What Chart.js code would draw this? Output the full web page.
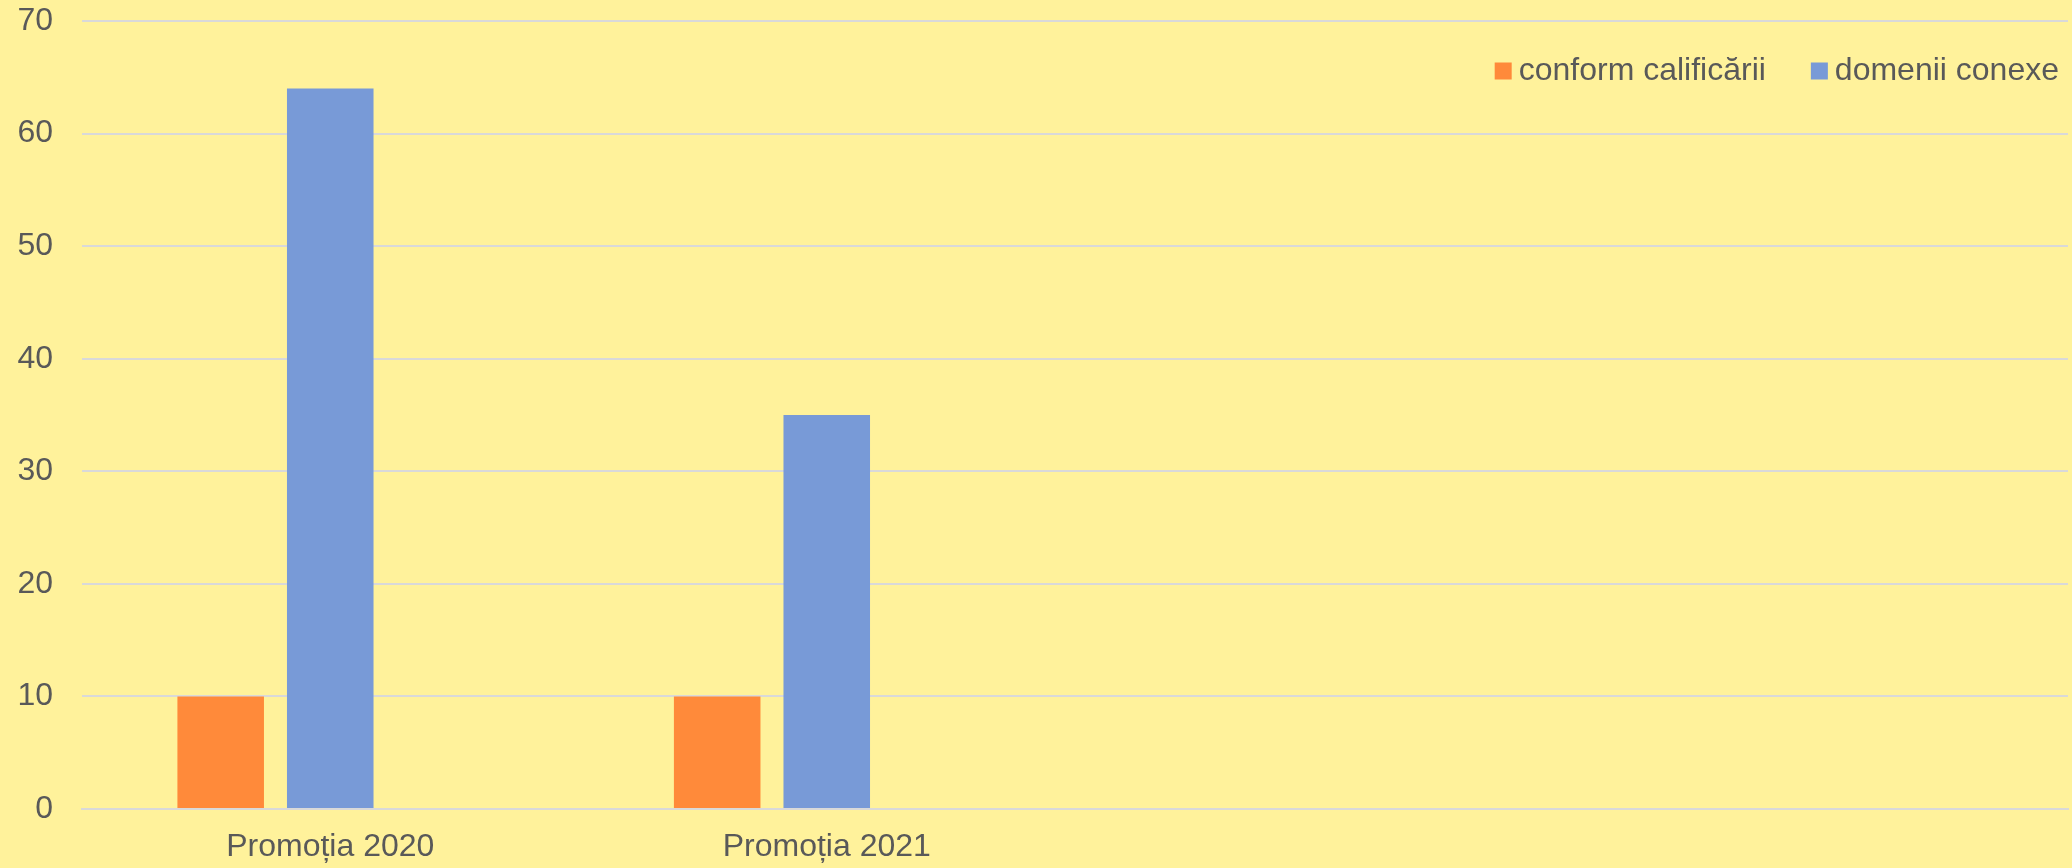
<!DOCTYPE html>
<html>
<head>
<meta charset="utf-8">
<script src="https://cdn.jsdelivr.net/npm/chart.js@4.4.1/dist/chart.umd.min.js"></script>
<style>
html,body{margin:0;padding:0;background:#FFF29B;}
#wrap{width:2072px;height:868px;position:relative;}
</style>
</head>
<body>
<div id="wrap"><canvas id="c" width="2072" height="868"></canvas></div>
<script>
const categories = ["Promoția 2020", "Promoția 2021", "", ""];
const conformCalificarii = [10, 10, null, null];
const domeniiConexe = [64, 35, null, null];
const altSerie = [null, null, null, null];
const yTicks = [0, 10, 20, 30, 40, 50, 60, 70];

const textColor = '#595959';
const fontFamily = '"Liberation Sans", Arial, sans-serif';
const font = {family: fontFamily, size: 32};

const bgPlugin = {
  id: 'bg',
  beforeDraw(chart) {
    const ctx = chart.ctx;
    ctx.save();
    ctx.fillStyle = '#FFF29B';
    ctx.fillRect(0, 0, chart.width, chart.height);
    ctx.restore();
  }
};

// legend drawn inside the chart area, top right
const legendPlugin = {
  id: 'innerLegend',
  afterDraw(chart) {
    const ctx = chart.ctx;
    const area = chart.chartArea;
    const items = chart.data.datasets.filter(d => d.label);
    const box = 17, gapText = 7, gapItem = 45;
    ctx.save();
    ctx.font = '32px ' + fontFamily;
    ctx.textBaseline = 'middle';
    ctx.textAlign = 'left';
    const cy = area.top + 49;
    let x = area.right - 9;
    const widths = items.map(d => ctx.measureText(d.label).width);
    for (let i = items.length - 1; i >= 0; i--) {
      x -= widths[i];
      const tx = x;
      x -= gapText + box;
      ctx.fillStyle = items[i].backgroundColor;
      ctx.fillRect(x, cy - 7.5, box, box);
      ctx.fillStyle = textColor;
      ctx.fillText(items[i].label, tx, cy + 1);
      x -= gapItem;
    }
    ctx.restore();
  }
};

new Chart(document.getElementById('c'), {
  type: 'bar',
  data: {
    labels: categories,
    datasets: [
      {label: 'conform calificării', data: conformCalificarii, backgroundColor: '#FF8A3A'},
      {label: 'domenii conexe', data: domeniiConexe, backgroundColor: '#789AD7'},
      {label: '', data: altSerie, backgroundColor: '#A5A5A5'}
    ]
  },
  options: {
    responsive: false,
    animation: false,
    devicePixelRatio: 1,
    barPercentage: 0.79,
    categoryPercentage: 0.662,
    layout: {padding: {top: 21, right: 4, bottom: 0, left: 0}},
    plugins: {
      tooltip: {enabled: false},
      legend: {display: false}
    },
    scales: {
      x: {
        grid: {display: false, drawTicks: false},
        border: {display: true, color: '#D9D9D9', width: 2},
        ticks: {color: textColor, font: font, padding: 19, maxRotation: 0, autoSkip: false},
        afterFit(scale) { scale.height = 59; scale.paddingLeft = 0; scale.paddingRight = 0; }
      },
      y: {
        min: 0,
        max: 70,
        afterBuildTicks(scale) { scale.ticks = yTicks.map(v => ({value: v})); },
        afterFit(scale) { scale.width = 82; scale.paddingTop = 0; scale.paddingBottom = 0; },
        grid: {color: '#D9D9D9', lineWidth: 2, drawTicks: false},
        border: {display: false},
        ticks: {color: textColor, font: font, padding: 29}
      }
    }
  },
  plugins: [bgPlugin, legendPlugin]
});
</script>
</body>
</html>
